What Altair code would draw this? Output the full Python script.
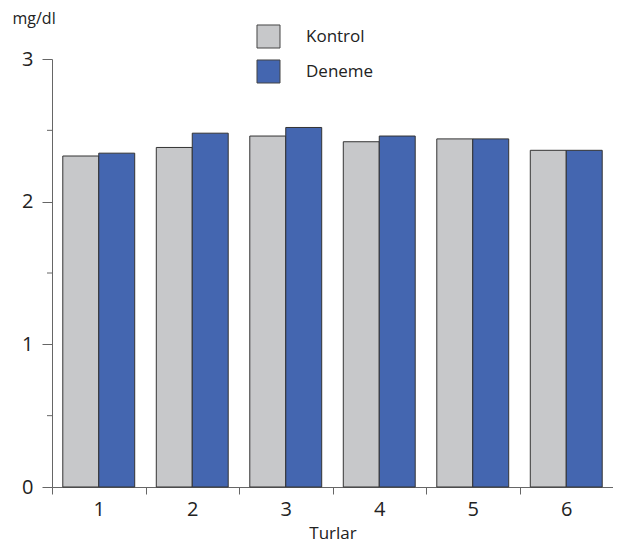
import altair as alt
import pandas as pd

turlar = ["1", "2", "3", "4", "5", "6"]
kontrol = [2.32, 2.38, 2.46, 2.42, 2.44, 2.36]
deneme = [2.34, 2.48, 2.52, 2.46, 2.44, 2.36]
groups = ["Kontrol", "Deneme"]
colors = ["#c7c8ca", "#4466b0"]
y_major = [0, 1, 2, 3]
y_minor = [0.5, 1.5, 2.5]

rows = []
for t, k, d in zip(turlar, kontrol, deneme):
    rows.append({"tur": t, "grup": "Kontrol", "deger": k})
    rows.append({"tur": t, "grup": "Deneme", "deger": d})
df = pd.DataFrame(rows)

FONT = "Open Sans"

bars = alt.Chart(df).mark_bar(stroke="#333333", strokeWidth=1).encode(
    x=alt.X("tur:N", sort=turlar,
            scale=alt.Scale(paddingInner=0, paddingOuter=0),
            axis=alt.Axis(title="Turlar", labelAngle=0, tickBand="extent",
                          tickSize=7, labelPadding=5, labelFontSize=20,
                          titleFontSize=17, titleFontWeight="normal",
                          titlePadding=6, domainColor="#666666",
                          tickColor="#666666", labelColor="#222222",
                          titleColor="#222222", labelFont=FONT, titleFont=FONT)),
    xOffset=alt.XOffset("grup:N", sort=groups,
                        scale=alt.Scale(paddingInner=0, paddingOuter=0.3)),
    y=alt.Y("deger:Q", scale=alt.Scale(domain=[0, 3], nice=False),
            axis=alt.Axis(values=y_major, format="d", tickSize=10, labelPadding=9,
                          labelFontSize=20, labelColor="#222222", labelFont=FONT,
                          domainColor="#666666", tickColor="#666666", grid=False,
                          title="mg/dl", titleAngle=0, titleAlign="left",
                          titleBaseline="alphabetic", titleX=-40, titleY=-36,
                          titleFontSize=16, titleFontWeight="normal",
                          titleColor="#222222", titleFont=FONT)),
    color=alt.Color("grup:N", sort=groups,
                    scale=alt.Scale(domain=groups, range=colors),
                    legend=alt.Legend(title=None, orient="none", legendX=204,
                                      legendY=-35, symbolType="square",
                                      symbolSize=530, symbolStrokeColor="#444444",
                                      symbolStrokeWidth=1, labelFontSize=17,
                                      labelFont=FONT, labelColor="#222222",
                                      labelOffset=25, rowPadding=6, padding=0)),
)

minor = alt.Chart(pd.DataFrame({"v": y_minor})).mark_rule(
    color="#666666", strokeWidth=1, clip=False
).encode(
    y=alt.Y("v:Q"),
    x=alt.value(-5),
    x2=alt.value(0),
)

chart = alt.layer(bars, minor).properties(
    width=561, height=428,
    autosize=alt.AutoSizeParams(type="none"),
    padding={"left": 44, "top": 51, "right": 0, "bottom": 55},
).configure_view(stroke=None)

chart.save("out.html", embed_options={"renderer": "svg", "actions": False})
